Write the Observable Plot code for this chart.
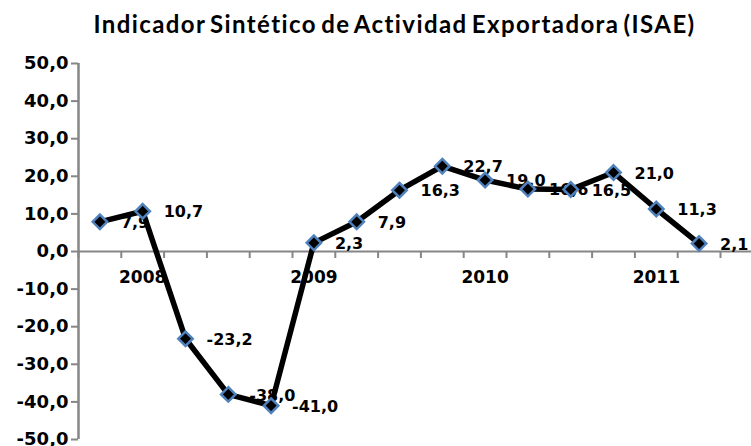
<!DOCTYPE html>
<html><head><meta charset="utf-8">
<script src="https://cdn.jsdelivr.net/npm/d3@7"></script>
<script src="https://cdn.jsdelivr.net/npm/@observablehq/plot@0.6"></script>
<style>
body{margin:0;background:#fff;}
#title{width:751px;height:45px;box-sizing:border-box;padding-left:38px;padding-top:12px;text-align:center;font-family:Lato,sans-serif;font-weight:bold;font-size:24px;line-height:24px;letter-spacing:1.4px;word-spacing:-3px;color:#000;white-space:nowrap;}
#chart svg{display:block}
</style></head><body>
<div id="title">Indicador Sintético de Actividad Exportadora (ISAE)</div>
<div id="chart"></div>
<script>
const quarters = ["2008-I","2008-II","2008-III","2008-IV","2009-I","2009-II","2009-III","2009-IV","2010-I","2010-II","2010-III","2010-IV","2011-I","2011-II","2011-III"];
const yearLabels = ["","2008","","","","2009","","","","2010","","","","2011",""];
const values = [7.9, 10.7, -23.2, -38.0, -41.0, 2.3, 7.9, 16.3, 22.7, 19.0, 16.6, 16.5, 21.0, 11.3, 2.1];
const yTicks = [-50, -40, -30, -20, -10, 0, 10, 20, 30, 40, 50];

const fmt = d => d.toFixed(1).replace(".", ",");
const data = quarters.map((q, i) => ({q, i, pos: i + 0.5, value: values[i], year: yearLabels[i]}));
const boundaries = d3.range(quarters.length + 1);
const gray = "#868686";
const font = "'DejaVu Sans', sans-serif";

const chart = Plot.plot({
  width: 751,
  height: 401,
  marginTop: 18,
  marginBottom: 7,
  marginLeft: 78,
  marginRight: 31,
  style: {fontFamily: font, fontWeight: "bold", color: "#000", background: "#fff"},
  x: {type: "linear", domain: [0, quarters.length], axis: null},
  y: {domain: [-50, 50]},
  marks: [
    Plot.axisY({ticks: yTicks, tickFormat: fmt, tickSize: 7, tickPadding: 3, stroke: gray, strokeWidth: 2, fill: "#000", fontSize: 18, fontWeight: "bold", fontFamily: font, label: null}),
    Plot.ruleY([0], {stroke: gray, strokeWidth: 2, insetRight: -31}),
    Plot.ruleX(boundaries, {x: d => d, y1: 0, y2: 0, insetBottom: -7, stroke: gray, strokeWidth: 2}),
    Plot.ruleX([0], {stroke: gray, strokeWidth: 2.5}),
    Plot.text(data.filter(d => d.year), {x: "pos", y: 0, text: "year", dy: 26, fontSize: 17, fontWeight: "bold", fontFamily: font, fill: "#000"}),
    Plot.text(data, {x: "pos", y: "value", text: d => fmt(d.value), dx: 21, dy: 1, textAnchor: "start", fontSize: 16, fontWeight: "bold", fontFamily: font, fill: "#000"}),
    Plot.line(data, {x: "pos", y: "value", stroke: "#000", strokeWidth: 5.5, strokeLinejoin: "round"}),
    Plot.dot(data, {x: "pos", y: "value", symbol: "diamond2", r: 6.5, fill: "#000", stroke: "#4F81BD", strokeWidth: 2.5})
  ]
});
document.getElementById("chart").append(chart);
</script>
</body></html>
